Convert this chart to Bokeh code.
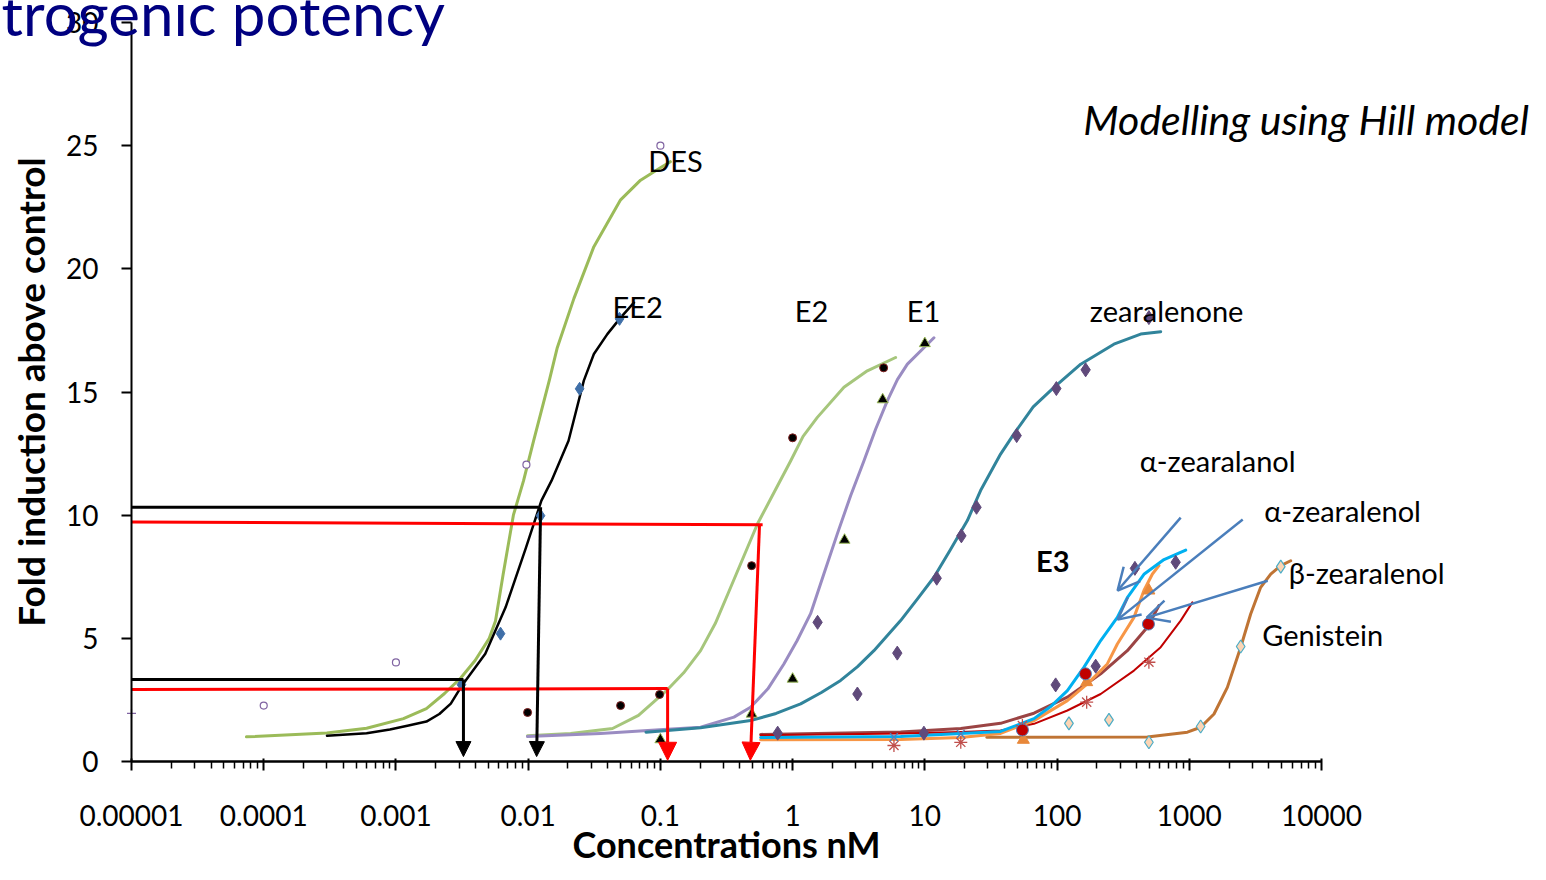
from bokeh.plotting import figure
from bokeh.models import FixedTicker, Label, Arrow, NormalHead, OpenHead, Range1d
from bokeh.embed import file_html
from bokeh.resources import INLINE

# ---------------- axis ticks ----------------
x_ticks = [1e-5, 1e-4, 1e-3, 1e-2, 1e-1, 1, 10, 100, 1000, 10000]
x_tick_labels = ["0.00001", "0.0001", "0.001", "0.01", "0.1", "1", "10", "100", "1000", "10000"]
y_ticks = [0, 5, 10, 15, 20, 25, 30]

# ---------------- fitted (Hill) curves ----------------
des_curve_x = [7.4e-5, 3.0e-4, 6.0e-4, 1.14e-3, 1.7e-3, 2.33e-3, 3.1e-3, 3.97e-3, 5.08e-3, 5.66e-3,
               6.47e-3, 7.73e-3, 9.23e-3, 0.01099, 0.0145, 0.0166, 0.0222, 0.0314, 0.050, 0.0708,
               0.100, 0.119]
des_curve_y = [1.0, 1.16, 1.35, 1.74, 2.15, 2.76, 3.4, 4.1, 5.0, 5.7,
               7.6, 10.0, 11.4, 13.02, 15.5, 16.8, 18.8, 20.9, 22.8, 23.6,
               24.1, 24.35]

ee2_curve_x = [3.01e-4, 6.0e-4, 9.0e-4, 1.245e-3, 1.7e-3, 2.13e-3, 2.6e-3, 3.17e-3, 4.74e-3, 6.75e-3,
               9.64e-3, 0.01259, 0.01503, 0.0202, 0.02636, 0.0314, 0.0397, 0.050, 0.0631]
ee2_curve_y = [1.05, 1.15, 1.3, 1.46, 1.62, 1.93, 2.35, 3.1, 4.37, 6.26,
               8.69, 10.59, 11.4, 13.02, 15.46, 16.54, 17.35, 18.02, 18.63]

e2_curve_x = [0.00988, 0.02095, 0.04345, 0.0683, 0.1134, 0.15, 0.2014, 0.26, 0.328, 0.543, 0.72,
              0.966, 1.2, 1.538, 2.444, 3.673, 6.01]
e2_curve_y = [1.05, 1.14, 1.34, 1.87, 2.92, 3.6, 4.5, 5.6, 6.87, 9.65, 10.9,
              12.2, 13.2, 13.97, 15.19, 15.86, 16.4]

e1_curve_x = [0.00988, 0.0353, 0.1057, 0.2014, 0.360, 0.4808, 0.65, 0.859, 1.08, 1.368, 1.72,
              2.178, 2.75, 3.46, 4.25, 5.20, 6.2, 7.38, 11.72]
e1_curve_y = [1.01, 1.14, 1.3, 1.39, 1.8, 2.2, 2.95, 3.96, 4.9, 6.0, 7.6,
              9.24, 10.8, 12.2, 13.5, 14.64, 15.5, 16.13, 17.2]

zea_curve_x = [0.0778, 0.2014, 0.4808, 0.75, 1.150, 1.65, 2.307, 3.1, 4.12, 6.56, 8.8, 11.72, 15.6,
               20.97, 26.4, 37.4, 47.2, 66.0, 94.8, 151, 269, 429, 608]
zea_curve_y = [1.19, 1.37, 1.66, 1.95, 2.34, 2.8, 3.29, 3.85, 4.5, 5.72, 6.6, 7.48, 8.6,
               9.78, 11.0, 12.48, 13.3, 14.4, 15.19, 16.13, 16.94, 17.35, 17.45]

azol_curve_x = [0.573, 6.56, 18.7, 37.4, 66.9, 89.5, 119.7, 159.9, 213.8, 285.7, 340, 454, 644, 940]
azol_curve_y = [0.97, 1.01, 1.14, 1.22, 1.74, 2.23, 2.88, 3.83, 4.91, 5.85, 6.65, 7.6, 8.2, 8.58]

azel_curve_x = [0.573, 6.56, 18.7, 37.4, 66.9, 119.7, 169.5, 240, 285.7, 381.7, 454, 526, 590]
azel_curve_y = [0.88, 0.89, 0.97, 1.14, 1.66, 2.47, 3.15, 3.96, 4.77, 5.85, 6.94, 7.61, 7.95]

bzel_curve_x = [0.573, 6.56, 18.7, 37.4, 66.9, 119.7, 213.8, 340, 482, 590]
bzel_curve_y = [1.1, 1.2, 1.34, 1.55, 1.96, 2.61, 3.56, 4.5, 5.45, 6.33]

e3_curve_x = [0.573, 6.56, 18.7, 37.4, 66.9, 119.7, 213.8, 381.7, 608, 861, 1055]
e3_curve_y = [1.07, 1.14, 1.2, 1.26, 1.53, 2.07, 2.74, 3.69, 4.64, 5.72, 6.46]

gen_curve_x = [29.4, 482, 968, 1219, 1538, 1941, 2448, 2913, 3467, 4130, 4920, 5848]
gen_curve_y = [0.98, 0.99, 1.19, 1.39, 1.93, 3.01, 4.64, 5.99, 7.07, 7.61, 7.95, 8.15]

# ---------------- measured points ----------------
des_pts_x = [1e-4, 1e-3, 0.0097, 0.1]
des_pts_y = [2.27, 4.02, 12.05, 25.0]
des_cross_x = [1e-5]
des_cross_y = [1.95]

ee2_pts_x = [0.00313, 0.00618, 0.0124, 0.0245, 0.0491]
ee2_pts_y = [3.12, 5.19, 9.98, 15.13, 17.97]

e2_pts_x = [0.0099, 0.05, 0.0986, 0.49, 1.0, 4.88]
e2_pts_y = [1.99, 2.27, 2.72, 7.95, 13.14, 15.98]

e1_pts_x = [0.1, 0.49, 1.0, 2.47, 4.8, 10.0]
e1_pts_y = [0.89, 1.93, 3.35, 8.99, 14.69, 16.97]

zea_pts_x = [0.771, 1.545, 3.09, 6.19, 12.3, 18.9, 24.6, 49.5, 98.8, 164.5, 495]
zea_pts_y = [1.15, 5.65, 2.74, 4.4, 7.44, 9.16, 10.32, 13.23, 15.14, 15.9, 18.02]

azol_pts_x = [9.84, 97.6, 196, 388, 789]
azol_pts_y = [1.15, 3.11, 3.87, 7.84, 8.09]

bzel_pts_x = [54.7, 164, 491]
bzel_pts_y = [1.28, 3.56, 5.58]

e3_pts_x = [5.84, 18.7, 54.7, 167.5, 495]
e3_pts_y = [0.65, 0.78, 1.46, 2.41, 4.03]

azel_x_pts_x = [5.84, 18.7]
azel_x_pts_y = [0.99, 1.12]

azel_tri_x = [55.6, 167.5, 495]
azel_tri_y = [0.88, 3.22, 6.94]

gen_pts_x = [123, 247, 495, 1219, 2448, 4920]
gen_pts_y = [1.55, 1.69, 0.78, 1.42, 4.67, 7.91]

# ---------------- EC guide lines (fold level -> concentration) ----------------
guide_colors = ["black", "red", "black", "red"]
guide_h_x0 = [1e-5, 1e-5, 1e-5, 1e-5]
guide_h_x1 = [0.0120, 0.593, 0.00324, 0.1134]
guide_h_y0 = [10.32, 9.72, 3.33, 2.92]
guide_h_y1 = [10.32, 9.61, 3.33, 2.96]
guide_v_x0 = [0.01242, 0.562, 0.00324, 0.1134]
guide_v_y0 = [10.32, 9.61, 3.33, 2.96]
guide_v_x1 = [0.01159, 0.479, 0.00324, 0.1134]
guide_v_y1 = [0.2, 0.05, 0.2, 0.05]

# pointer arrows (label -> curve)
ptr_x0 = [861, 2535, 3918]
ptr_y0 = [9.90, 9.82, 7.34]
ptr_x1 = [287, 287, 476]
ptr_y1 = [6.94, 5.76, 5.84]

FONT = "Lato"

# ---------------- layout: frame fills the canvas, axes sit at fixed data locations ----------------
W, H = 1530, 864
AX_L, AX_R, AX_T, AX_B = 131, 1321, 22, 761          # pixel positions of the axes box
ppd = (AX_R - AX_L) / 9.0                              # pixels per decade
ppu = (AX_B - AX_T) / 30.0                             # pixels per fold unit
x_lo = 10 ** (-5 - AX_L / ppd)
x_hi = 10 ** (4 + (W - AX_R) / ppd)
y_lo = -(H - AX_B) / ppu
y_hi = 30 + AX_T / ppu

p = figure(width=W, height=H, x_axis_type="log", title=None,
           x_range=Range1d(x_lo, x_hi), y_range=Range1d(y_lo, y_hi),
           output_backend="svg", toolbar_location=None, min_border=0)
p.xgrid.visible = False
p.ygrid.visible = False
p.outline_line_color = None
p.background_fill_color = "white"
p.border_fill_color = "white"

minor = [m * d for d in x_ticks[:-1] for m in range(2, 10)]
p.xaxis.fixed_location = 0
p.xaxis.bounds = (1e-5, 1e4)
p.xaxis.ticker = FixedTicker(ticks=x_ticks, minor_ticks=minor)
p.xaxis.major_label_overrides = dict(zip(x_ticks, x_tick_labels))
p.xaxis.axis_line_width = 2.5
p.xaxis.major_tick_line_width = 2
p.xaxis.major_tick_in = 3
p.xaxis.major_tick_out = 9
p.xaxis.minor_tick_in = 0
p.xaxis.minor_tick_out = 7
p.xaxis.minor_tick_line_width = 1.5
p.xaxis.major_label_text_font = FONT
p.xaxis.major_label_text_font_size = "28px"
p.xaxis.major_label_text_color = "black"
p.xaxis.major_label_standoff = 34
p.xaxis.axis_label = "Concentrations nM"
p.xaxis.axis_label_text_font = FONT
p.xaxis.axis_label_text_font_style = "bold"
p.xaxis.axis_label_text_font_size = "36px"
p.xaxis.axis_label_text_color = "black"
p.xaxis.axis_label_standoff = -7

p.yaxis.fixed_location = 1e-5
p.yaxis.bounds = (0, 30)
p.yaxis.ticker = FixedTicker(ticks=y_ticks, minor_ticks=[])
p.yaxis.axis_line_width = 2
p.yaxis.major_tick_line_width = 2
p.yaxis.major_tick_in = 0
p.yaxis.major_tick_out = 10
p.yaxis.minor_tick_line_color = None
p.yaxis.major_label_text_font = FONT
p.yaxis.major_label_text_font_size = "28px"
p.yaxis.major_label_text_color = "black"
p.yaxis.major_label_standoff = 23
p.yaxis.axis_label = "Fold induction above control"
p.yaxis.axis_label_text_font = FONT
p.yaxis.axis_label_text_font_style = "bold"
p.yaxis.axis_label_text_font_size = "37px"
p.yaxis.axis_label_text_color = "black"
p.yaxis.axis_label_standoff = 10

# curves
curves = [
    (des_curve_x, des_curve_y, "#9BBB59", 3),
    (ee2_curve_x, ee2_curve_y, "black", 2.5),
    (e2_curve_x, e2_curve_y, "#A6C67C", 3),
    (e1_curve_x, e1_curve_y, "#9A8CC2", 3),
    (zea_curve_x, zea_curve_y, "#31849B", 3),
    (gen_curve_x, gen_curve_y, "#BF7434", 3),
    (bzel_curve_x, bzel_curve_y, "#9B4444", 3),
    (e3_curve_x, e3_curve_y, "#C00000", 2),
    (azel_curve_x, azel_curve_y, "#F79646", 3),
    (azol_curve_x, azol_curve_y, "#00B0F0", 3),
]
for cx, cy, col, w in curves:
    p.line(cx, cy, line_color=col, line_width=w, line_join="round", line_cap="round")

# points
p.scatter(des_pts_x, des_pts_y, marker="circle", size=7, fill_color="white", line_color="#8064A2", line_width=1.2)
p.scatter(des_cross_x, des_cross_y, marker="cross", size=9, line_color="#8064A2", line_width=1.2)
p.scatter(ee2_pts_x, ee2_pts_y, marker="diamond", size=13, fill_color="#3F6FA8", line_color="#3F6FA8")
p.scatter(e2_pts_x, e2_pts_y, marker="circle", size=8, fill_color="black", line_color="#7F1F1F", line_width=1)
p.scatter(e1_pts_x, e1_pts_y, marker="triangle", size=11, fill_color="black", line_color="#9BBB59", line_width=1)
p.scatter(zea_pts_x, zea_pts_y, marker="diamond", size=14, fill_color="#604A7B", line_color="#604A7B")
p.scatter(azol_pts_x, azol_pts_y, marker="diamond", size=14, fill_color="#604A7B", line_color="#604A7B")
p.scatter(gen_pts_x, gen_pts_y, marker="diamond", size=13, fill_color="#FCD5B5", line_color="#4BACC6", line_width=1.2)
p.scatter(azel_tri_x, azel_tri_y, marker="triangle", size=12, fill_color="#E8883A", line_color="#E8883A")
p.scatter(e3_pts_x, e3_pts_y, marker="asterisk", size=13, line_color="#C0504D", line_width=1.3)
p.scatter(azel_x_pts_x, azel_x_pts_y, marker="x", size=11, line_color="#4F81BD", line_width=1.5)
p.scatter(bzel_pts_x, bzel_pts_y, marker="circle", size=12, fill_color="#C00000", line_color="#4F81BD", line_width=1)

# guide lines
for i, col in enumerate(guide_colors):
    p.segment(x0=[guide_h_x0[i]], y0=[guide_h_y0[i]], x1=[guide_h_x1[i]], y1=[guide_h_y1[i]],
              line_color=col, line_width=3)
    hsize = 15 if col == "black" else 18
    p.add_layout(Arrow(end=NormalHead(size=hsize, fill_color=col, line_color=col, line_width=1),
                       x_start=guide_v_x0[i], y_start=guide_v_y0[i],
                       x_end=guide_v_x1[i], y_end=guide_v_y1[i],
                       line_color=col, line_width=3))

for i in range(len(ptr_x0)):
    p.add_layout(Arrow(end=OpenHead(size=22, line_color="#4A7EBB", line_width=2.5),
                       x_start=ptr_x0[i], y_start=ptr_y0[i], x_end=ptr_x1[i], y_end=ptr_y1[i],
                       line_color="#4A7EBB", line_width=2.5))

# curve labels
curve_labels = [
    ("DES", 0.1303, 24.38, "normal"),
    ("EE2", 0.0673, 18.46, "normal"),
    ("E2", 1.392, 18.30, "normal"),
    ("E1", 9.79, 18.30, "normal"),
    ("zearalenone", 674, 18.30, "normal"),
    ("α-zearalanol", 1641, 12.21, "normal"),
    ("α-zearalenol", 14450, 10.18, "normal"),
    ("β-zearalenol", 21970, 7.67, "normal"),
    ("Genistein", 10210, 5.15, "normal"),
    ("E3", 92.7, 8.15, "bold"),
]
for txt, lx, ly, style in curve_labels:
    p.add_layout(Label(x=lx, y=ly, text=txt, text_font=FONT, text_font_size="29px",
                       text_font_style=style, text_color="black",
                       text_align="center", text_baseline="middle"))

p.add_layout(Label(x=3.7e5, y=26.05, text="Modelling using Hill model", text_font=FONT,
                   text_font_size="41px", text_font_style="italic", text_color="black",
                   text_align="right", text_baseline="middle"))

p.add_layout(Label(x=1.04e-6, y=30.39, text="trogenic potency", text_font=FONT,
                   text_font_size="60px", text_color="#000080",
                   text_align="left", text_baseline="middle"))

open("out.html", "w").write(file_html(p, INLINE))
